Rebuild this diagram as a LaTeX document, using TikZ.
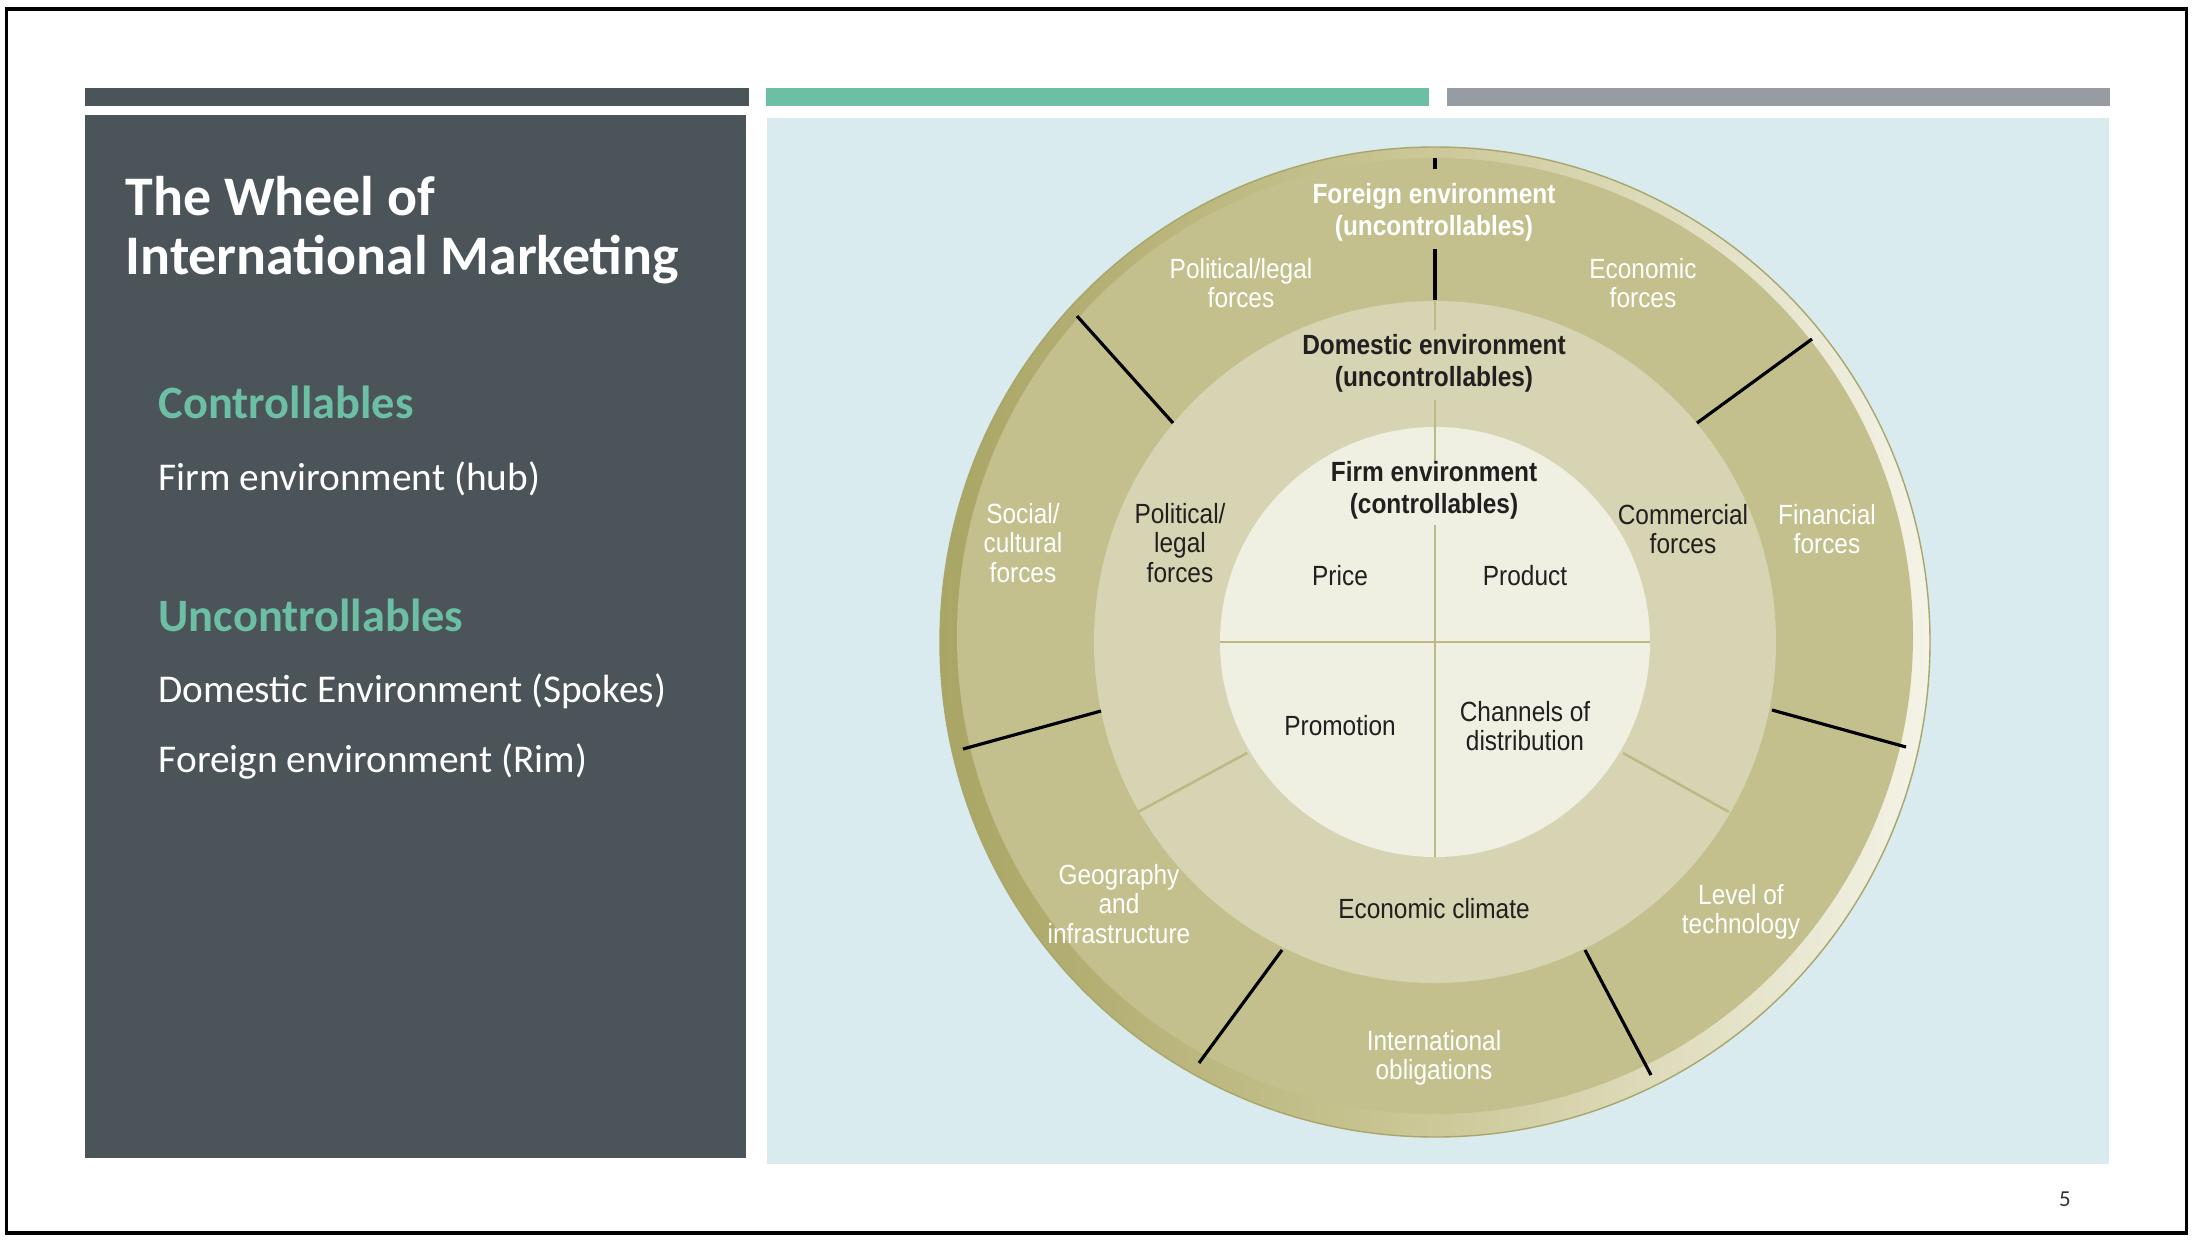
\documentclass[tikz,border=0pt]{standalone}
\usepackage{fontspec}
\setmainfont{Carlito}
\newfontfamily\wheelfont[FakeStretch=0.88]{Liberation Sans}
\usepackage{tikz}

\definecolor{slate}{HTML}{4A5459}
\definecolor{mint}{HTML}{6CBFA5}
\definecolor{steel}{HTML}{969CA1}
\definecolor{paleblue}{HTML}{D9EBEE}
\definecolor{wheelolive}{HTML}{C4C08D}
\definecolor{rimdark}{HTML}{A9A564}
\definecolor{rimmid}{HTML}{CCC898}
\definecolor{rimlight}{HTML}{F4F3E7}
\definecolor{rimline}{HTML}{A9A66A}
\definecolor{ringtan}{HTML}{D6D4B2}
\definecolor{hubcream}{HTML}{EFEFE2}
\definecolor{divline}{HTML}{BCB984}
\definecolor{ink}{HTML}{231F20}

\begin{document}
\begin{tikzpicture}[x=0.1mm, y=-0.1mm,
		rimtext/.style={font=\wheelfont\fontsize{7.9}{8.3}\selectfont, text=white, align=center, inner sep=0pt},
		ringtext/.style={rimtext, text=ink},
		boldtext/.style={font=\wheelfont\bfseries\fontsize{7.9}{9}\selectfont},
		spoke/.style={line width=0.9pt, black},
		divider/.style={line width=0.7pt, divline},
		headtext/.style={font=\bfseries\fontsize{13.2}{15}\selectfont, text=mint, anchor=base west, inner sep=0pt},
		bodytext/.style={font=\fontsize{11.2}{13}\selectfont, text=white, anchor=base west, inner sep=0pt}]
				\useasboundingbox (0,0) rectangle (2194,1242);
				% Slide frame
				\fill[white] (0,0) rectangle (2194,1242);
				\draw[line width=1pt] (6.5,9) rectangle (2186.5,1233);

				% Bars on top
				\fill[slate] (85,88) rectangle (749,106);
				\fill[mint] (766,88) rectangle (1429,106);
				\fill[steel] (1447,88) rectangle (2110,106);

				% Panels
				\fill[slate] (85,115) rectangle (746,1158);
				\fill[paleblue] (767,118) rectangle (2109,1164);

				% Left panel text
				\node[font=\bfseries\fontsize{15.9}{17}\selectfont, text=white, align=left, anchor=west, inner sep=0pt] (title) at (125,230) {The Wheel of\\International Marketing};
				\node[headtext] (ctrl) at (158,418) {Controllables};
				\node[bodytext] (hubnote) at (158,490) {Firm environment (hub)};
				\node[headtext] (unctrl) at (158,631) {Uncontrollables};
				\node[bodytext] (spokenote) at (158,702) {Domestic Environment (Spokes)};
				\node[bodytext] (rimnote) at (158,772) {Foreign environment (Rim)};

				% Rim of the wheel
				\shade[draw=rimline, line width=0.4pt, left color=rimdark, right color=rimlight, middle color=rimmid] (1435,642) circle (495);
				\fill[wheelolive] (1435,636) circle (478);
				% Spokes ring and hub
				\fill[ringtan] (1435,642) circle (341);
				\fill[hubcream] (1435,642) circle (215);

				% Light dividers
				\draw[divider] (1435,300) -- (1435,330);
				\draw[divider] (1435,400) -- (1435,462);
				\draw[divider] (1435,525) -- (1435,857);
				\draw[divider] (1220,642) -- (1650,642);
				\draw[divider] (1138,812) -- (1247,753);
				\draw[divider] (1623,753) -- (1729,812);

				% Black spokes in the rim
				\draw[spoke] (1435,158) -- (1435,169);
				\draw[spoke] (1435,249) -- (1435,300);
				\draw[spoke] (1077,316) -- (1173,423);
				\draw[spoke] (1812,339) -- (1697,423);
				\draw[spoke] (963,749) -- (1101,711);
				\draw[spoke] (1772,710) -- (1906,747);
				\draw[spoke] (1199,1063) -- (1282,950);
				\draw[spoke] (1585,950) -- (1651,1075);

				% Foreign environment
				\node[rimtext, boldtext] (foreign) at (1434,212) {Foreign environment\\(uncontrollables)};
				\node[rimtext] (fpolitical) at (1241,283) {Political/legal\\forces};
				\node[rimtext] (feconomic) at (1643,283) {Economic\\forces};
				\node[rimtext] (fsocial) at (1023,543) {Social/\\cultural\\forces};
				\node[rimtext] (ffinancial) at (1827,529) {Financial\\forces};
				\node[rimtext] (fgeography) at (1119,904) {Geography\\and\\infrastructure};
				\node[rimtext] (ftechnology) at (1741,912) {Level of\\technology};
				\node[rimtext] (fobligations) at (1434,1058) {International\\obligations};

				% Domestic environment
				\node[ringtext, boldtext] (domestic) at (1434,363) {Domestic environment\\(uncontrollables)};
				\node[ringtext] (dpolitical) at (1180,543) {Political/\\legal\\forces};
				\node[ringtext] (dcommercial) at (1683,529) {Commercial\\forces};
				\node[ringtext] (dclimate) at (1434,909) {Economic climate};

				% Firm environment
				\node[ringtext, boldtext] (firm) at (1434,490) {Firm environment\\(controllables)};
				\node[ringtext] (price) at (1340,576) {Price};
				\node[ringtext] (product) at (1525,576) {Product};
				\node[ringtext] (promotion) at (1340,726) {Promotion};
				\node[ringtext] (channels) at (1525,726) {Channels of\\distribution};

				% Slide number
				\node[font=\fontsize{6.5}{8}\selectfont, text=black!80, inner sep=0pt] (pagenum) at (2065,1199) {5};
			\end{tikzpicture}
\end{document}
